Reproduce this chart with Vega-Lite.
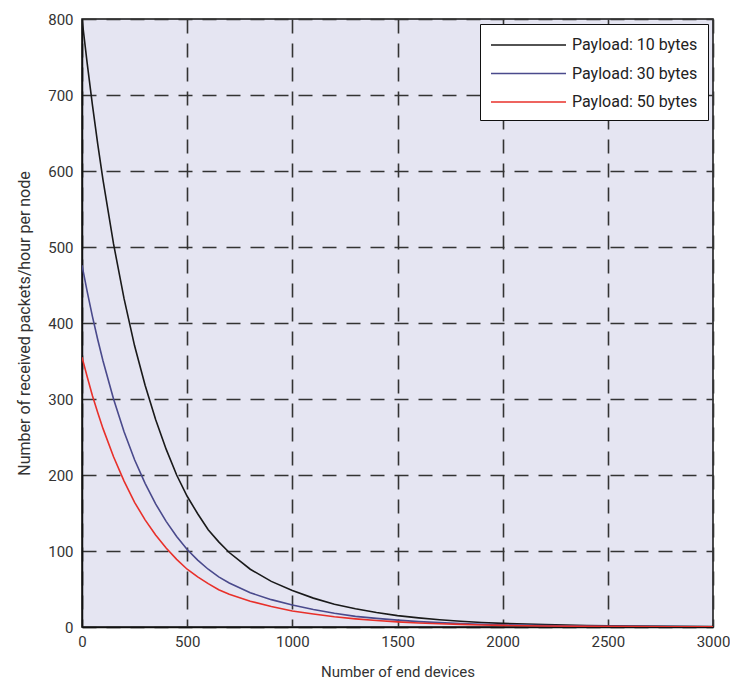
{
  "$schema": "https://vega.github.io/schema/vega-lite/v6.json",
  "autosize": {"type": "none"},
  "padding": {"left": 82, "top": 19, "right": 17, "bottom": 54},
  "width": 631,
  "height": 608,
  "background": "white",
  "config": {
    "view": {"fill": "#e5e5f2", "stroke": "#111", "strokeWidth": 1.5},
    "font": "Roboto",
    "axis": {
      "labelFont": "Roboto",
      "titleFont": "Roboto",
      "labelFontSize": 15,
      "titleFontSize": 16,
      "titleFontWeight": "normal",
      "labelColor": "#333",
      "titleColor": "#333",
      "domainColor": "#111",
      "domainWidth": 1.5,
      "grid": true,
      "gridColor": "#333",
      "gridWidth": 1.6,
      "gridDash": [14, 10],
      "gridOpacity": 1,
      "ticks": false
    },
    "legend": {
      "labelFont": "Roboto",
      "labelFontSize": 16,
      "labelColor": "#222"
    }
  },
  "data": {
    "values": [
      {"x": 0, "Black": 800, "Blue": 476, "Red": 355},
      {"x": 25, "Black": 741, "Blue": 441, "Red": 329},
      {"x": 50, "Black": 686, "Blue": 408, "Red": 304},
      {"x": 75, "Black": 635, "Blue": 378, "Red": 282},
      {"x": 100, "Black": 588, "Blue": 350, "Red": 261},
      {"x": 150, "Black": 504, "Blue": 300, "Red": 224},
      {"x": 200, "Black": 432, "Blue": 257, "Red": 192},
      {"x": 250, "Black": 370, "Blue": 220, "Red": 164},
      {"x": 300, "Black": 318, "Blue": 189, "Red": 141},
      {"x": 350, "Black": 273, "Blue": 162, "Red": 121},
      {"x": 400, "Black": 234, "Blue": 139, "Red": 104},
      {"x": 450, "Black": 200, "Blue": 119, "Red": 89},
      {"x": 500, "Black": 172, "Blue": 102, "Red": 76},
      {"x": 550, "Black": 149, "Blue": 88, "Red": 66},
      {"x": 600, "Black": 128, "Blue": 76, "Red": 57},
      {"x": 650, "Black": 112, "Blue": 66, "Red": 49},
      {"x": 700, "Black": 98, "Blue": 58, "Red": 43},
      {"x": 800, "Black": 76, "Blue": 45, "Red": 34},
      {"x": 900, "Black": 60, "Blue": 36, "Red": 27},
      {"x": 1000, "Black": 48, "Blue": 29, "Red": 21},
      {"x": 1100, "Black": 38, "Blue": 23, "Red": 17},
      {"x": 1200, "Black": 30, "Blue": 18, "Red": 13.5},
      {"x": 1300, "Black": 24, "Blue": 14, "Red": 10.7},
      {"x": 1400, "Black": 19, "Blue": 11.4, "Red": 8.5},
      {"x": 1500, "Black": 15, "Blue": 9, "Red": 6.7},
      {"x": 1600, "Black": 12, "Blue": 7.1, "Red": 5.3},
      {"x": 1700, "Black": 9.6, "Blue": 5.7, "Red": 4.3},
      {"x": 1800, "Black": 7.6, "Blue": 4.5, "Red": 3.4},
      {"x": 1900, "Black": 6, "Blue": 3.6, "Red": 2.7},
      {"x": 2000, "Black": 4.8, "Blue": 2.9, "Red": 2.1},
      {"x": 2200, "Black": 3.2, "Blue": 1.9, "Red": 1.4},
      {"x": 2400, "Black": 2, "Blue": 1.2, "Red": 0.9},
      {"x": 2600, "Black": 1.3, "Blue": 0.8, "Red": 0.6},
      {"x": 2800, "Black": 0.8, "Blue": 0.5, "Red": 0.4},
      {"x": 3000, "Black": 0.6, "Blue": 0.3, "Red": 0.25}
    ]
  },
  "transform": [
    {"fold": ["Black", "Blue", "Red"], "as": ["key", "value"]},
    {"lookup": "key", "from": {"data": {"values": [
      {"key": "Black", "series": "Payload: 10 bytes"},
      {"key": "Blue", "series": "Payload: 30 bytes"},
      {"key": "Red", "series": "Payload: 50 bytes"}
    ]}, "key": "key", "fields": ["series"]}}
  ],
  "mark": {"type": "line", "strokeWidth": 1.6, "clip": true},
  "encoding": {
    "x": {
      "field": "x", "type": "quantitative",
      "scale": {"domain": [0, 3000], "nice": false},
      "axis": {"values": [0, 500, 1000, 1500, 2000, 2500, 3000], "format": "d", "title": "Number of end devices", "titleFontSize": 15, "labelPadding": 7, "titlePadding": 15, "labelFlush": false}
    },
    "y": {
      "field": "value", "type": "quantitative",
      "scale": {"domain": [0, 800], "nice": false},
      "axis": {"values": [0, 100, 200, 300, 400, 500, 600, 700, 800], "format": "d", "title": "Number of received packets/hour per node", "labelPadding": 9, "titlePadding": 15}
    },
    "color": {
      "field": "series", "type": "nominal",
      "scale": {"domain": ["Payload: 10 bytes", "Payload: 30 bytes", "Payload: 50 bytes"], "range": ["#1a1a1a", "#4a4a8c", "#e8302a"]},
      "legend": {
        "title": null,
        "orient": "top-right",
        "offset": 5,
        "fillColor": "white",
        "strokeColor": "#111",
        "padding": 10,
        "symbolType": "M -7 0 L 0.5 0",
        "symbolSize": 400,
        "symbolOffset": 60,
        "symbolStrokeWidth": 1.6,
        "labelOffset": 0,
        "rowPadding": 9.5
      }
    }
  }
}
